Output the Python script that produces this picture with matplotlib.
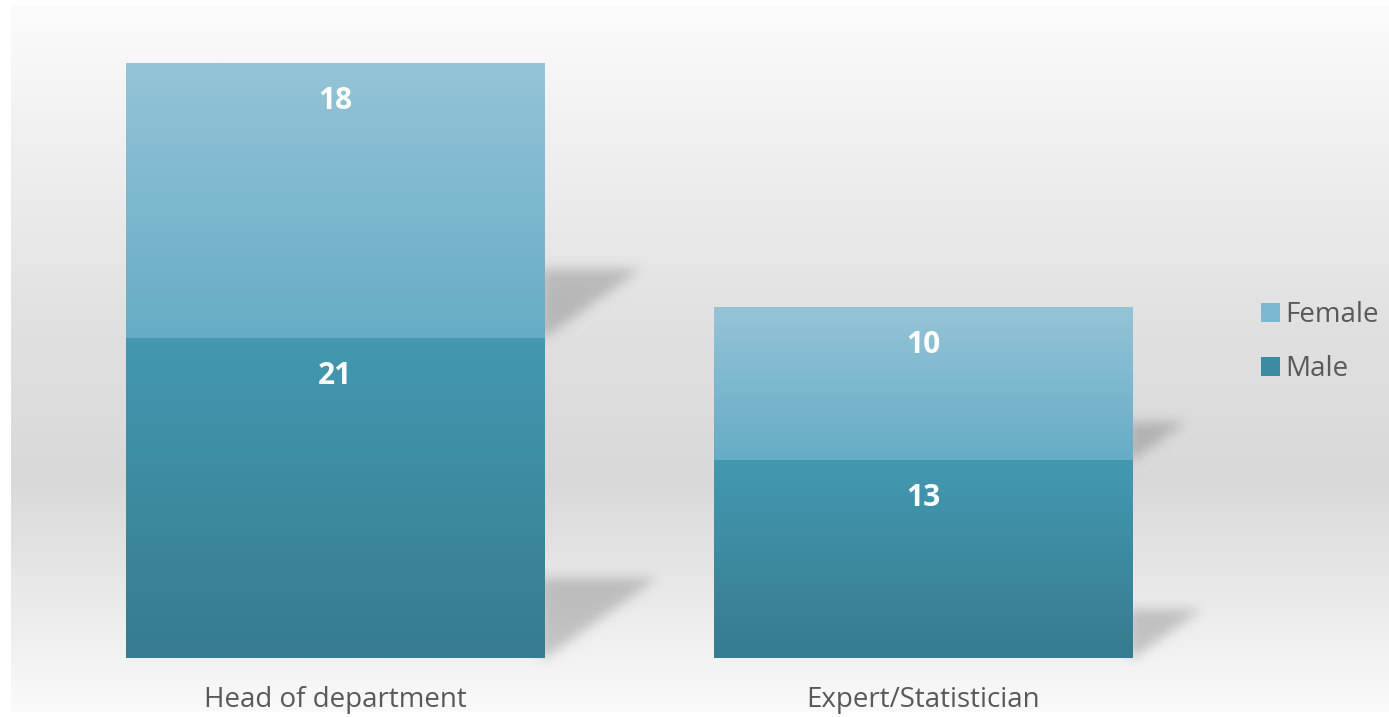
import numpy as np
import matplotlib.pyplot as plt
from matplotlib.patches import Patch
from matplotlib.colors import to_rgb

plt.rcParams['font.family'] = ['Open Sans', 'DejaVu Sans']

# datos
categorias = ['Head of department', 'Expert/Statistician']
male = [21, 13]
female = [18, 10]
series = ['Female', 'Male']

# colores (arriba, abajo) del degradado
col_female = ('#95c4d7', '#66acc6')
col_male = ('#4399b1', '#367b90')
texto_gris = '#595959'

W, H = 1389, 717
fig = plt.figure(figsize=(W / 100, H / 100), dpi=100)

ax = fig.add_axes([41 / W, (H - 658) / H, (1217 - 41) / W, 610.4 / H])
ax.set_xlim(-0.5, 1.5)
ax.set_ylim(0, 40)
ax.set_zorder(2)
ax.patch.set_visible(False)
for s in ax.spines.values():
    s.set_visible(False)
ax.set_yticks([])
ax.set_xticks(range(len(categorias)))
ax.set_xticklabels(categorias, fontsize=20, color=texto_gris)
ax.tick_params(axis='x', length=0, pad=20)

x = np.arange(len(categorias))
ancho = 0.711
barras_m = ax.bar(x, male, ancho, color='none', linewidth=0)
barras_f = ax.bar(x, female, ancho, bottom=male, color='none', linewidth=0)


def rellenar(barras, colores):
    c0 = np.array(to_rgb(colores[0]))
    c1 = np.array(to_rgb(colores[1]))
    t = np.linspace(0, 1, 256)[:, None]
    grad = (c0 * (1 - t) + c1 * t)[:, None, :]
    for b in barras:
        x0, y0 = b.get_x(), b.get_y()
        im = ax.imshow(grad, extent=(x0, x0 + b.get_width(), y0, y0 + b.get_height()),
                       aspect='auto', zorder=1, interpolation='bilinear')
        im.set_clip_path(b)


rellenar(barras_m, col_male)
rellenar(barras_f, col_female)
ax.set_xlim(-0.5, 1.5)
ax.set_ylim(0, 40)

# etiquetas de valores
for barras in (barras_m, barras_f):
    for b in barras:
        ax.annotate(f'{int(b.get_height())}', (b.get_x() + b.get_width() / 2, b.get_y() + b.get_height()),
                    xytext=(0, -27.5), textcoords='offset points', ha='center', va='center',
                    fontsize=21.5, fontweight='bold', color='white')

# fondo con degradado y sombras
filas = np.arange(H)
yp = [0, 7, 330, 480, 620, 709, 717]
vp = [1.0, 0.985, 0.88, 0.85, 0.93, 0.98, 1.0]
fondo = np.interp(filas, yp, vp)[:, None] * np.ones((1, W))
fondo[:5, :] = 1.0
fondo[712:, :] = 1.0
fondo[:, :11] = 1.0

yy, xx = np.mgrid[0:H, 0:W]
mascara = np.zeros((H, W))
for barras in (barras_m, barras_f):
    for b in barras:
        (px0, py0) = ax.transData.transform((b.get_x() + b.get_width(), b.get_y()))
        (_, py1) = ax.transData.transform((0, b.get_y() + b.get_height()))
        xr = px0
        fondo_fila = H - py0
        alto = 0.25 * (py1 - py0)
        largo = 1.4 * alto
        top = fondo_fila - alto
        dentro = (yy >= top) & (yy <= fondo_fila) & (xx >= xr - 5)
        # triangulo: borde diagonal desde (xr+largo, top) hasta (xr, fondo_fila)
        lim = xr + largo * (fondo_fila - yy) / alto
        dentro &= xx <= lim
        mascara[dentro] = 1.0


def suavizar(m, sigma):
    r = int(3 * sigma)
    k = np.exp(-0.5 * (np.arange(-r, r + 1) / sigma) ** 2)
    k /= k.sum()
    m = np.apply_along_axis(lambda v: np.convolve(v, k, mode='same'), 0, m)
    m = np.apply_along_axis(lambda v: np.convolve(v, k, mode='same'), 1, m)
    return m


mascara = suavizar(mascara, 6)
fondo = fondo * (1 - 0.19 * mascara)

axf = fig.add_axes([0, 0, 1, 1])
axf.set_zorder(0)
axf.imshow(np.dstack([fondo] * 3), extent=(0, W, H, 0), aspect='auto', interpolation='bilinear')
axf.set_xlim(0, W)
axf.set_ylim(H, 0)
axf.axis('off')

# leyenda
manejadores = [Patch(facecolor='#7bb8cf', label='Female'),
               Patch(facecolor='#3d8ba3', label='Male')]
fig.legend(handles=manejadores, loc='center left', bbox_to_anchor=(1236 / W, 1 - 342 / H),
           frameon=False, fontsize=20, labelcolor=texto_gris, handlelength=0.68,
           handleheight=0.68, handletextpad=0.2, labelspacing=0.95)

fig.savefig('out.png', dpi=100)
